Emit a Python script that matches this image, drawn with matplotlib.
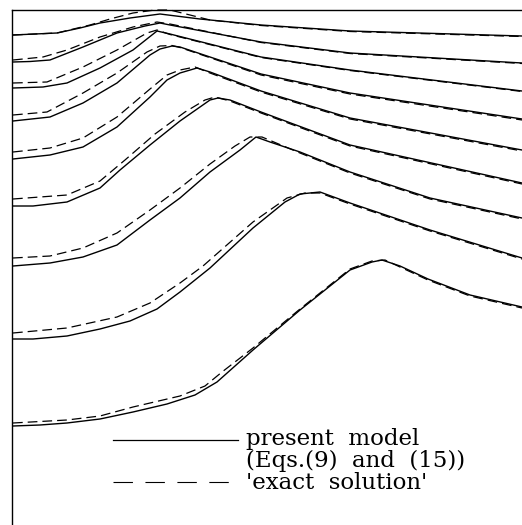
import matplotlib
matplotlib.use("Agg")
import matplotlib.pyplot as plt

# profiles (x along the bed, y = height with offset per curve)
# solid = present model, dashed = 'exact solution'
c1_x = [1, 45, 68, 88, 118, 148, 188, 249, 338, 510]
c1_y = [490, 492, 497, 502, 507, 511, 506, 500, 494, 489]
c1_dx = [1, 45, 78, 98, 121, 143, 158, 178, 198, 249, 338, 510]
c1_dy = [490, 492, 500, 506, 512, 515, 515, 510, 505, 499.5, 493.5, 488.5]

c2_x = [1, 18, 38, 71, 105, 133, 148, 158, 249, 338, 510]
c2_y = [463, 463.5, 465, 478, 492, 499, 502, 500, 483, 472, 462]
c2_dx = [1, 31, 55, 88, 121, 145, 158, 249, 338, 510]
c2_dy = [465, 468, 475, 488, 498, 503, 501, 482.5, 471.5, 461.5]

c3_x = [1, 31, 55, 88, 121, 145, 158, 249, 338, 510]
c3_y = [437, 438, 442, 457, 475, 494, 491, 468, 455, 434]
c3_dx = [1, 35, 71, 105, 135, 145, 158, 249, 338, 510]
c3_dy = [442, 443, 458, 475, 492, 495, 490.5, 467.5, 454.5, 433.5]

c4_x = [1, 38, 71, 105, 138, 148, 160, 168, 249, 338, 510]
c4_y = [404, 408, 422, 442, 470, 476, 479, 478, 451, 432, 406]
c4_dx = [1, 35, 71, 105, 135, 148, 160, 168, 249, 338, 510]
c4_dy = [410, 413, 432, 452, 473, 479, 479.5, 477.5, 450, 431, 405]

c5_x = [1, 38, 71, 105, 138, 155, 168, 185, 198, 249, 338, 510]
c5_y = [366, 370, 378, 398, 428, 445, 452, 457, 453, 434, 407, 375]
c5_dx = [1, 38, 71, 105, 138, 155, 168, 183, 198, 249, 338, 510]
c5_dy = [373, 377, 387, 408, 436, 450, 455, 458, 452, 433, 406, 374]

c6_x = [1, 21, 55, 88, 108, 138, 168, 188, 198, 206, 218, 249, 338, 510]
c6_y = [319, 319, 323, 337, 355, 380, 404, 418, 425, 427, 425, 413, 380, 342]
c6_dx = [1, 55, 88, 113, 143, 173, 193, 203, 218, 249, 338, 510]
c6_dy = [326, 330, 344, 365, 391, 413, 425, 428, 424, 412, 379, 341]

c7_x = [1, 38, 71, 105, 138, 168, 198, 228, 244, 258, 288, 338, 418, 510]
c7_y = [259, 262, 268, 280, 305, 327, 353, 375, 388, 383, 373, 353, 327, 307]
c7_dx = [1, 38, 71, 105, 138, 168, 198, 223, 238, 250, 288, 338, 418, 510]
c7_dy = [267, 269, 277, 292, 315, 337, 361, 379, 388, 388, 372, 352, 326, 306]

c8_x = [1, 21, 55, 88, 118, 145, 168, 198, 241, 273, 288, 308, 338, 418, 510]
c8_y = [186, 186, 189, 196, 204, 216, 233, 257, 297, 323, 331, 333, 322, 295, 267]
c8_dx = [1, 55, 105, 138, 168, 191, 241, 275, 293, 308, 338, 418, 510]
c8_dy = [192, 197, 208, 222, 242, 259, 303, 327, 332, 332, 321, 294, 266]

c9_x = [1, 28, 55, 88, 121, 155, 183, 205, 241, 288, 338, 360, 370, 388, 416, 458, 510]
c9_y = [99, 100, 102, 106, 113, 121, 130, 143, 175, 215, 255, 263, 265, 259, 246, 230, 218]
c9_dx = [1, 55, 88, 121, 168, 193, 210, 241, 288, 338, 360, 373, 388, 416, 458, 510]
c9_dy = [102, 105, 109, 118, 129, 139, 153, 177, 216, 256, 264, 265, 258, 245, 229, 217]

solid = [(c1_x, c1_y), (c2_x, c2_y), (c3_x, c3_y), (c4_x, c4_y), (c5_x, c5_y),
         (c6_x, c6_y), (c7_x, c7_y), (c8_x, c8_y), (c9_x, c9_y)]
dashed = [(c1_dx, c1_dy), (c2_dx, c2_dy), (c3_dx, c3_dy), (c4_dx, c4_dy), (c5_dx, c5_dy),
          (c6_dx, c6_dy), (c7_dx, c7_dy), (c8_dx, c8_dy), (c9_dx, c9_dy)]

legend_labels = ["present  model", "(Eqs.(9)  and  (15))", "'exact  solution'"]

plt.rcParams["lines.scale_dashes"] = False

fig = plt.figure(figsize=(5.22, 5.25), dpi=100)
ax = fig.add_axes([12 / 522, 0.0, 510 / 522, 515 / 525])
ax.set_xlim(0, 510)
ax.set_ylim(0, 515)

for x, y in solid:
    ax.plot(x, y, color="black", lw=1.0, solid_joinstyle="round")
for x, y in dashed:
    ax.plot(x, y, color="black", lw=0.9, dashes=(7, 3.6), clip_on=False)

# legend drawn by hand so the handle sits on the first text line
ax.plot([101, 226], [85, 85], color="black", lw=0.9)
ax.plot([101, 226], [43, 43], color="black", lw=0.8, dashes=(14, 9))
ax.text(234, 86, legend_labels[0], fontsize=16.5, family="DejaVu Serif", va="center")
ax.text(234, 64.5, legend_labels[1], fontsize=16.5, family="DejaVu Serif", va="center")
ax.text(234, 42, legend_labels[2], fontsize=16.5, family="DejaVu Serif", va="center")

ax.spines["right"].set_visible(False)
ax.spines["bottom"].set_visible(False)
ax.spines["left"].set_linewidth(1.0)
ax.spines["top"].set_linewidth(1.0)
ax.set_xticks([])
ax.set_yticks([])

fig.savefig("out.png", dpi=100)
